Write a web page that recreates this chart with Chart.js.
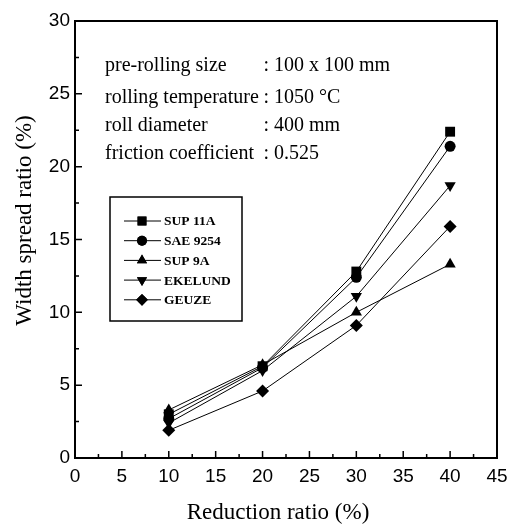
<!DOCTYPE html>
<html>
<head>
<meta charset="utf-8">
<script src="https://cdn.jsdelivr.net/npm/chart.js@4/dist/chart.umd.min.js"></script>
<style>
html,body{margin:0;padding:0;background:#fff}
</style>
</head>
<body>
<canvas id="c" width="515" height="525"></canvas>
<script>
// donnees
const reduction=[10,20,30,40]
const sup11a=[3.0,6.3,12.8,22.4]
const sae9254=[2.7,6.2,12.4,21.4]
const sup9a=[3.3,6.4,10.0,13.3]
const ekelund=[2.4,6.0,11.1,18.7]
const geuze=[1.9,4.6,9.1,15.9]

const seriesNames=["SUP 11A","SAE 9254","SUP 9A","EKELUND","GEUZE"]
const seriesValues=[sup11a,sae9254,sup9a,ekelund,geuze]
const markers=["rect","circle","triangle","triangle","rectRot"]
const markerRot=[0,0,0,180,0]
const markerSize=[7,5.5,6.5,6.5,6.5]

const conditionsLabel=["pre-rolling size","rolling temperature","roll diameter","friction coefficient"]
const conditionsValue=[": 100 x 100 mm",": 1050 °C",": 400 mm",": 0.525"]

const xTitle="Reduction ratio (%)"
const yTitle="Width spread ratio (%)"

const serif="'Liberation Serif','Times New Roman',serif"
const sans="'Liberation Sans',Arial,sans-serif"

function pts(vals){
    var out=[]
    for(var i=0;i<reduction.length;i++){
        out.push({x:reduction[i],y:vals[i]})
    }
    return out
}

var datasets=[]
for(var i=0;i<seriesNames.length;i++){
    datasets.push({
        label:seriesNames[i],
        data:pts(seriesValues[i]),
        showLine:true,
        borderColor:"#000",
        borderWidth:1,
        backgroundColor:"#000",
        pointStyle:markers[i],
        pointRotation:markerRot[i],
        pointRadius:markerSize[i],
        pointBorderWidth:0
    })
}

function marker(ctx,style,r,rot,x,y){ //dessiner un marqueur pour la legende
    if(Chart.helpers && Chart.helpers.drawPoint){
        Chart.helpers.drawPoint(ctx,{pointStyle:style,radius:r,rotation:rot,borderWidth:0},x,y)
        ctx.fill()
    }
}

const decor={
    id:"decor",
    afterDraw(chart){
        const ctx=chart.ctx
        const a=chart.chartArea
        const xs=chart.scales.x
        const ys=chart.scales.y
        ctx.save()
        // cadre
        ctx.strokeStyle="#000"
        ctx.lineWidth=2
        ctx.strokeRect(a.left,a.top,a.right-a.left,a.bottom-a.top)
        // graduations vers l'interieur
        ctx.lineWidth=1.5
        ctx.beginPath()
        for(var v=2.5;v<45;v+=2.5){
            var px=xs.getPixelForValue(v)
            var len=(v%5==0)?7:4
            ctx.moveTo(px,a.bottom)
            ctx.lineTo(px,a.bottom-len)
        }
        for(var v=2.5;v<30;v+=2.5){
            var py=ys.getPixelForValue(v)
            var len=(v%5==0)?7:4
            ctx.moveTo(a.left,py)
            ctx.lineTo(a.left+len,py)
        }
        ctx.stroke()

        // titres des axes
        ctx.fillStyle="#000"
        ctx.font="23px "+serif
        ctx.textAlign="center"
        ctx.textBaseline="middle"
        ctx.fillText(xTitle,(a.left+a.right)/2-8,513)
        ctx.save()
        ctx.translate(25,(a.top+a.bottom)/2-19)
        ctx.rotate(-Math.PI/2)
        ctx.fillText(yTitle,0,0)
        ctx.restore()

        // conditions
        ctx.font="20px "+serif
        ctx.textAlign="left"
        var rowsY=[26.9,24.7,22.8,20.9]
        for(var i=0;i<conditionsLabel.length;i++){
            var y=ys.getPixelForValue(rowsY[i])
            ctx.fillText(conditionsLabel[i],xs.getPixelForValue(3.2),y)
            ctx.fillText(conditionsValue[i],xs.getPixelForValue(20.1),y)
        }

        // legende
        var lx=a.left+35, ly=a.top+176, lw=132, lh=124
        ctx.lineWidth=1.5
        ctx.strokeRect(lx,ly,lw,lh)
        ctx.font="bold 13.5px "+serif
        for(var i=0;i<seriesNames.length;i++){
            var ry=ly+24+i*19.7
            ctx.lineWidth=1
            ctx.beginPath()
            ctx.moveTo(lx+14,ry)
            ctx.lineTo(lx+51,ry)
            ctx.stroke()
            marker(ctx,markers[i],markerSize[i]*0.9,markerRot[i],lx+32,ry)
            ctx.fillText(seriesNames[i],lx+54,ry+1)
        }
        ctx.restore()
    }
}

var chart=new Chart(document.getElementById("c"),{
    type:"scatter",
    data:{datasets:datasets},
    options:{
        responsive:false,
        animation:false,
        layout:{padding:{top:21,right:18,left:0,bottom:0}},
        plugins:{legend:{display:false},tooltip:{enabled:false}},
        scales:{
            x:{
                type:"linear",min:0,max:45,
                border:{display:false},
                grid:{display:false,drawTicks:false},
                ticks:{stepSize:5,color:"#000",padding:7,font:{family:sans,size:19}},
                afterFit(s){s.height=67}
            },
            y:{
                type:"linear",min:0,max:30,
                border:{display:false},
                grid:{display:false,drawTicks:false},
                ticks:{stepSize:5,color:"#000",padding:5,font:{family:sans,size:19}},
                afterFit(s){s.width=75}
            }
        }
    },
    plugins:[decor]
})
</script>
</body>
</html>
